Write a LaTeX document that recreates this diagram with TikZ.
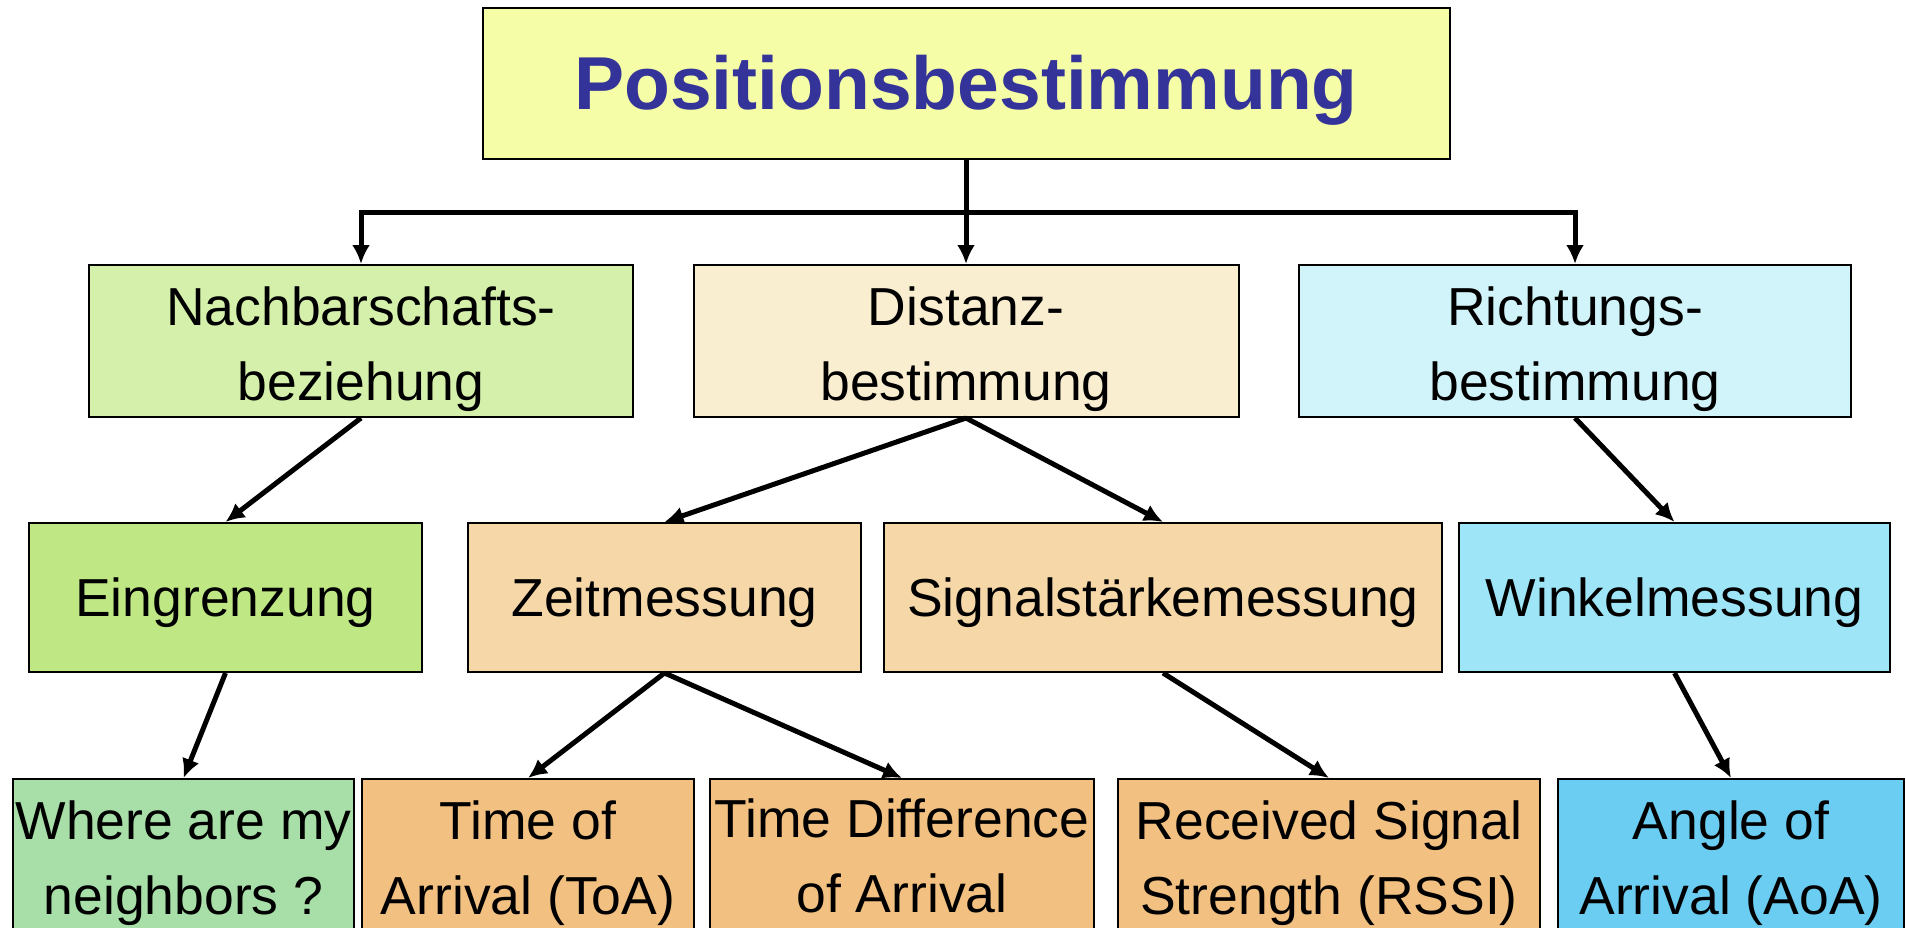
\documentclass[tikz,border=0pt]{standalone}
\usepackage{fontspec}
\setmainfont{Liberation Sans}
\usetikzlibrary{arrows.meta}
\definecolor{titleblue}{HTML}{333399}
\definecolor{cTop}{HTML}{F5FDA6}
\definecolor{cNach}{HTML}{D4F0AA}
\definecolor{cDist}{HTML}{FAEED0}
\definecolor{cRich}{HTML}{D0F4FA}
\definecolor{cEin}{HTML}{BFE884}
\definecolor{cMid}{HTML}{F5D7A8}
\definecolor{cWink}{HTML}{9EE6F7}
\definecolor{cWhere}{HTML}{A8DEA8}
\definecolor{cLow}{HTML}{F2C080}
\definecolor{cAoA}{HTML}{6CCDF2}
\tikzset{
  boxnode/.style={draw=black, line width=2pt, rectangle, inner sep=0pt},
  txt/.style={inner sep=0pt, align=center, font=\fontsize{53.5}{75}\selectfont},
  conn/.style={line width=5pt, -{Latex[length=19pt,width=18pt]}},
  busline/.style={line width=5pt},
}
\begin{document}
\begin{tikzpicture}[x=1pt,y=-1pt]
\useasboundingbox (0,0) rectangle (1906,928);
% top
\node[boxnode, fill=cTop, minimum width=967pt, minimum height=151pt] (top) at (966,84) {};
\node[txt, font=\fontsize{75}{90}\selectfont\bfseries, text=titleblue] (topT) at ([yshift=-6pt]top.center) {Positionsbestimmung};
% level 2
\node[boxnode, fill=cNach, minimum width=544pt, minimum height=152pt] (nach) at (361,341) {};
\node[txt] (nachT) at ([yshift=-8pt]nach.center) {Nachbarschafts-\\beziehung};
\node[boxnode, fill=cDist, minimum width=545pt, minimum height=152pt] (dist) at (966,341) {};
\node[txt] (distT) at ([yshift=-8pt]dist.center) {Distanz-\\bestimmung};
\node[boxnode, fill=cRich, minimum width=552pt, minimum height=152pt] (rich) at (1575,341) {};
\node[txt] (richT) at ([yshift=-8pt]rich.center) {Richtungs-\\bestimmung};
% level 3
\node[boxnode, fill=cEin, minimum width=393pt, minimum height=149pt] (ein) at (225.5,597.5) {};
\node[txt] (einT) at ([yshift=-5pt]ein.center) {Eingrenzung};
\node[boxnode, fill=cMid, minimum width=393pt, minimum height=149pt] (zeit) at (664.5,597.5) {};
\node[txt] (zeitT) at ([yshift=-5pt]zeit.center) {Zeitmessung};
\node[boxnode, fill=cMid, minimum width=558pt, minimum height=149pt] (sig) at (1163,597.5) {};
\node[txt] (sigT) at ([yshift=-5pt]sig.center) {Signalstärkemessung};
\node[boxnode, fill=cWink, minimum width=431pt, minimum height=149pt] (wink) at (1674.5,597.5) {};
\node[txt] (winkT) at ([yshift=-5pt]wink.center) {Winkelmessung};
% level 4
\node[boxnode, fill=cWhere, minimum width=341pt, minimum height=152pt] (where) at (183.5,855) {};
\node[txt] (whereT) at ([yshift=-8pt]where.center) {Where are my\\neighbors ?};
\node[boxnode, fill=cLow, minimum width=332pt, minimum height=152pt] (toa) at (528,855) {};
\node[txt] (toaT) at ([yshift=-8pt]toa.center) {Time of\\Arrival (ToA)};
\node[boxnode, fill=cLow, minimum width=384pt, minimum height=152pt] (tdoa) at (902,855) {};
\node[txt] (tdoaT) at ([yshift=-1pt]tdoa.center) {Time Difference\\of Arrival};
\node[boxnode, fill=cLow, minimum width=422pt, minimum height=152pt] (rssi) at (1329,855) {};
\node[txt] (rssiT) at ([yshift=-8pt]rssi.center) {Received Signal\\Strength (RSSI)};
\node[boxnode, fill=cAoA, minimum width=346pt, minimum height=152pt] (aoa) at (1731,855) {};
\node[txt] (aoaT) at ([yshift=-8pt]aoa.center) {Angle of\\Arrival (AoA)};
% bus
\coordinate (bus) at (966,213);
\draw[busline] (top.south) -- (bus);
\draw[busline, {Latex[length=19pt,width=18pt]}-{Latex[length=19pt,width=18pt]}]
  (nach.north) -- (nach.north |- bus) -- (rich.north |- bus) -- (rich.north);
\draw[conn] (bus) -- (dist.north);
% level 2 -> 3
\draw[conn] (nach.south) -- (ein.north);
\draw[conn] (dist.south) -- (zeit.north);
\draw[conn] (dist.south) -- (sig.north);
\draw[conn] (rich.south) -- (wink.north);
% level 3 -> 4
\draw[conn] (ein.south) -- (where.north);
\draw[conn] (zeit.south) -- (toa.north);
\draw[conn] (zeit.south) -- (tdoa.north);
\draw[conn] (sig.south) -- (rssi.north);
\draw[conn] (wink.south) -- (aoa.north);
\end{tikzpicture}
\end{document}
